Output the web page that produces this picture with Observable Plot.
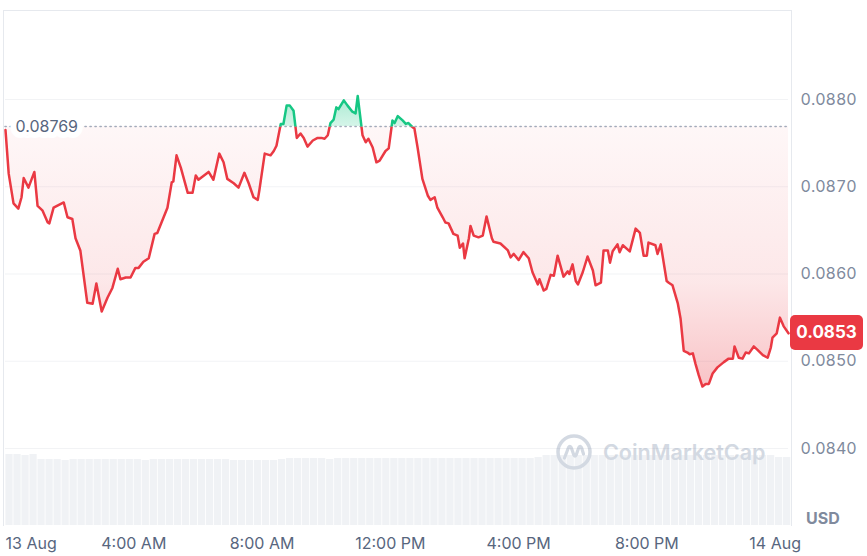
<!DOCTYPE html>
<html><head><meta charset="utf-8">
<script src="https://cdn.jsdelivr.net/npm/d3@7"></script>
<script src="https://cdn.jsdelivr.net/npm/@observablehq/plot@0.6"></script>
<style>
body{margin:0;background:#fff;font-family:Inter,"Noto Sans",sans-serif;}
#wrap{position:relative;width:867px;height:556px;overflow:hidden;background:#fff;}
#wrap > svg{position:absolute;left:0;top:0;}
#frame{position:absolute;left:3px;top:10px;width:787px;height:515px;border:1px solid #e6e9ee;border-bottom:none;}
#wm{position:absolute;left:555px;top:433px;display:flex;align-items:center;gap:10px;color:#d3d9e2;font:600 21.5px Inter,sans-serif;}
#badge{position:absolute;left:790px;width:73px;height:35px;background:#ea3943;border-radius:5px;color:#fff;font:700 17px Inter,sans-serif;display:flex;align-items:center;justify-content:center;}
#usd{position:absolute;left:806px;top:508px;color:#808a9d;font:700 16px Inter,sans-serif;}
</style></head><body><div id="wrap"><div id="frame"></div></div>
<script>
// ---- data ----
const startTime = Date.UTC(2024, 7, 13, 0, 0);
const endMinute = 1465;
const openPrice = 0.08769;
const minutes = [0,6,15,24,30,34,43,54,60,69,
79,82,90,109,116,125,131,140,153,163,
170,180,191,200,210,215,225,234,243,249,
258,268,279,284,303,311,314,320,328,341,
350,356,361,380,389,400,408,415,427,436,
447,455,464,472,475,485,496,502,507,515,
520,526,532,539,545,552,558,565,575,584,
591,597,603,608,614,619,623,633,640,649,
655,659,668,674,679,687,694,700,711,717,
724,728,734,743,749,754,762,765,771,780,
790,795,803,808,818,823,829,838,846,850,
856,859,867,870,876,885,893,900,910,913,
926,940,945,951,960,969,979,986,996,999,
1007,1012,1020,1026,1033,1044,1052,1055,1061,1067,
1071,1080,1089,1099,1104,1114,1119,1127,1131,1136,
1145,1149,1155,1168,1179,1187,1194,1200,1203,1216,
1220,1226,1237,1241,1248,1258,1263,1269,1276,1280,
1286,1291,1297,1304,1310,1316,1323,1332,1344,1353,
1361,1364,1372,1379,1385,1391,1400,1407,1417,1426,
1432,1435,1443,1449,1456,1465];
const prices = [0.08765,
0.08715,0.08681,0.08675,0.08688,0.08710,0.08699,0.08717,0.08678,0.08673,0.08659,
0.08658,0.08676,0.08682,0.08665,0.08663,0.08641,0.08627,0.08567,0.08566,0.08589,
0.08557,0.08573,0.08584,0.08606,0.08594,0.08596,0.08596,0.08607,0.08607,0.08614,
0.08618,0.08646,0.08647,0.08676,0.08705,0.08706,0.08736,0.08722,0.08693,0.08693,
0.08713,0.08708,0.08717,0.08708,0.08738,0.08728,0.08709,0.08704,0.08699,0.08716,
0.08704,0.08688,0.08685,0.08696,0.08738,0.08736,0.08741,0.08747,0.08772,0.08772,
0.08793,0.08793,0.08787,0.08756,0.08761,0.08756,0.08746,0.08753,0.08756,0.08756,
0.08755,0.08759,0.08773,0.08777,0.08791,0.08789,0.08799,0.08793,0.08786,0.08784,
0.08804,0.08759,0.08751,0.08755,0.08745,0.08728,0.08730,0.08741,0.08744,0.08776,
0.08773,0.08781,0.08776,0.08772,0.08773,0.08768,0.08767,0.08745,0.08709,0.08690,
0.08685,0.08688,0.08676,0.08665,0.08659,0.08658,0.08646,0.08644,0.08630,0.08635,
0.08618,0.08641,0.08655,0.08644,0.08642,0.08644,0.08666,0.08641,0.08637,0.08635,
0.08627,0.08619,0.08623,0.08616,0.08625,0.08618,0.08602,0.08588,0.08594,0.08581,
0.08583,0.08599,0.08598,0.08621,0.08597,0.08603,0.08600,0.08611,0.08592,0.08588,
0.08602,0.08620,0.08604,0.08587,0.08590,0.08627,0.08627,0.08613,0.08626,0.08634,
0.08625,0.08633,0.08626,0.08652,0.08647,0.08621,0.08621,0.08636,0.08633,0.08623,
0.08634,0.08592,0.08590,0.08587,0.08566,0.08549,0.08512,0.08510,0.08508,0.08509,
0.08497,0.08484,0.08471,0.08474,0.08474,0.08486,0.08493,0.08499,0.08503,0.08503,
0.08517,0.08504,0.08503,0.08510,0.08509,0.08517,0.08513,0.08507,0.08504,0.08516,
0.08527,0.08532,0.08550,0.08540,0.08532];
// 15-minute volume buckets (arbitrary units)
const volumes = [71,71,70,71,
66,66,66,65,66,66,66,66,66,66,66,66,66,65,66,66,66,66,66,66,66,66,66,66,65,65,65,65,
65,65,66,67,
67,67,67,67,66,67,67,67,67,67,67,67,67,67,67,67,67,
67,67,67,67,67,67,67,67,67,67,67,67,67,68,
70,70,70,70,70,70,70,70,70,70,70,70,70,70,70,70,70,70,70,70,70,70,70,70,70,70,70,70,70,
68,68];
const yTicks = [0.0840, 0.0850, 0.0860, 0.0870, 0.0880];
const xTickHours = [0, 4, 8, 12, 16, 20, 24];
const xTickLabels = ["13 Aug", "4:00 AM", "8:00 AM", "12:00 PM", "4:00 PM", "8:00 PM", "14 Aug"];

// ---- build ----
const T = m => new Date(startTime + m * 60000);
const series = minutes.map((m, i) => ({t: T(m), p: prices[i], base: openPrice}));
const xDomain = [T(0), T(endMinute)];
const volData = volumes.map((v, i) => ({t1: T(i * 15), t2: T(i * 15 + 15), v}));
const ticks = xTickHours.map((h, i) => ({t: T(h * 60), label: xTickLabels[i]}));

const wrap = document.getElementById("wrap");

const vol = Plot.plot({
  width: 867, height: 556,
  marginLeft: 5, marginRight: 79, marginTop: 454, marginBottom: 31,
  x: {type: "utc", domain: xDomain, axis: null},
  y: {domain: [0, 71], axis: null},
  style: {background: "transparent"},
  marks: [
    Plot.rectY(volData, {x1: "t1", x2: "t2", y: "v", fill: "#f0f2f5", insetLeft: 0.4, insetRight: 0.4})
  ]
});
wrap.appendChild(vol);

const wm = document.createElement("div");
wm.id = "wm";
wm.innerHTML = `<svg width="38" height="38" viewBox="0 0 38 38"><circle cx="19" cy="19" r="16" fill="none" stroke="#d3d9e2" stroke-width="3.5"/><path d="M9.5 25 L13.5 14.5 Q14.8 12 16.2 14.5 L18.8 22 Q20 24.5 21.2 22 L23.8 14.5 Q25.2 12 26.6 14.8 L28.5 21" fill="none" stroke="#d3d9e2" stroke-width="3.2" stroke-linecap="round" stroke-linejoin="round"/></svg><span>CoinMarketCap</span>`;
wrap.appendChild(wm);

const main = Plot.plot({
  width: 867, height: 556,
  marginLeft: 5, marginRight: 79, marginTop: 99, marginBottom: 108,
  x: {type: "utc", domain: xDomain, axis: null},
  y: {domain: [0.0840, 0.0880], ticks: yTicks, tickFormat: d => d.toFixed(4), axis: "right",
      tickSize: 0, tickPadding: 12, grid: true, label: null},
  style: {fontFamily: "Inter, 'Noto Sans', sans-serif", fontSize: "16px", color: "#808a9d", background: "transparent", overflow: "visible"},
  marks: [
    Plot.areaY(series, {x: "t", y1: "base", y2: "p", fill: "#ea3943", ariaDescription: "red-area"}),
    Plot.areaY(series, {x: "t", y1: "base", y2: "p", fill: "#16c784", ariaDescription: "green-area"}),
    Plot.ruleY([openPrice], {stroke: "#a3abba", strokeWidth: 1.6, strokeDasharray: "1.2,3.8", strokeLinecap: "round"}),
    Plot.line(series, {x: "t", y: "p", stroke: "#ea3943", strokeWidth: 2.5, ariaDescription: "red-line"}),
    Plot.line(series, {x: "t", y: "p", stroke: "#16c784", strokeWidth: 2.5, ariaDescription: "green-line"}),
    Plot.text([{t: T(0), p: openPrice}], {x: "t", y: "p", text: d => d.p.toFixed(5), textAnchor: "start", dx: 10,
      fill: "#58667e", stroke: "white", strokeWidth: 12, strokeLinejoin: "round", fontSize: 16}),
    Plot.text(ticks.slice(0, 1), {x: "t", text: "label", frameAnchor: "bottom", dy: 100, textAnchor: "start", fill: "#58667e", fontSize: 16}),
    Plot.text(ticks.slice(1), {x: "t", text: "label", frameAnchor: "bottom", dy: 100, textAnchor: "middle", fill: "#58667e", fontSize: 16})
  ]
});
wrap.appendChild(main);

// gradients and clip paths derived from the y scale
const NS = "http://www.w3.org/2000/svg";
const el = (name, attrs, parent) => {
  const e = document.createElementNS(NS, name);
  for (const k in attrs) e.setAttribute(k, attrs[k]);
  if (parent) parent.appendChild(e);
  return e;
};
const ys = main.scale("y");
const yRef = ys.apply(openPrice);
const yLow = ys.apply(d3.min(prices));
const yHigh = ys.apply(d3.max(prices));
const defs = el("defs", {});
const rg = el("linearGradient", {id: "redGrad", gradientUnits: "userSpaceOnUse", x1: 0, x2: 0, y1: yRef, y2: yLow}, defs);
el("stop", {offset: 0, "stop-color": "#ea3943", "stop-opacity": 0.04}, rg);
el("stop", {offset: 0.6, "stop-color": "#ea3943", "stop-opacity": 0.12}, rg);
el("stop", {offset: 1, "stop-color": "#ea3943", "stop-opacity": 0.3}, rg);
const gg = el("linearGradient", {id: "greenGrad", gradientUnits: "userSpaceOnUse", x1: 0, x2: 0, y1: yHigh, y2: yRef}, defs);
el("stop", {offset: 0, "stop-color": "#16c784", "stop-opacity": 0.38}, gg);
el("stop", {offset: 1, "stop-color": "#16c784", "stop-opacity": 0.18}, gg);
const cb = el("clipPath", {id: "clipBelow"}, defs);
el("rect", {x: 0, y: yRef, width: 867, height: 556 - yRef}, cb);
const ca = el("clipPath", {id: "clipAbove"}, defs);
el("rect", {x: 0, y: 0, width: 867, height: yRef}, ca);
main.insertBefore(defs, main.firstChild);

const applyLook = (desc, clip, fill) => {
  main.querySelectorAll(`[aria-description="${desc}"]`).forEach(g => {
    g.setAttribute("clip-path", `url(#${clip})`);
    if (fill) {
      g.setAttribute("fill", fill);
      g.querySelectorAll("path").forEach(p => p.setAttribute("fill", fill));
    }
  });
};
applyLook("red-area", "clipBelow", "url(#redGrad)");
applyLook("green-area", "clipAbove", "url(#greenGrad)");
applyLook("red-line", "clipBelow");
applyLook("green-line", "clipAbove");

// last-price badge
const last = prices[prices.length - 1];
const badge = document.createElement("div");
badge.id = "badge";
badge.style.top = (ys.apply(last) - 18) + "px";
badge.textContent = last.toFixed(4);
wrap.appendChild(badge);

const usd = document.createElement("div");
usd.id = "usd";
usd.textContent = "USD";
wrap.appendChild(usd);
</script>
</body></html>
